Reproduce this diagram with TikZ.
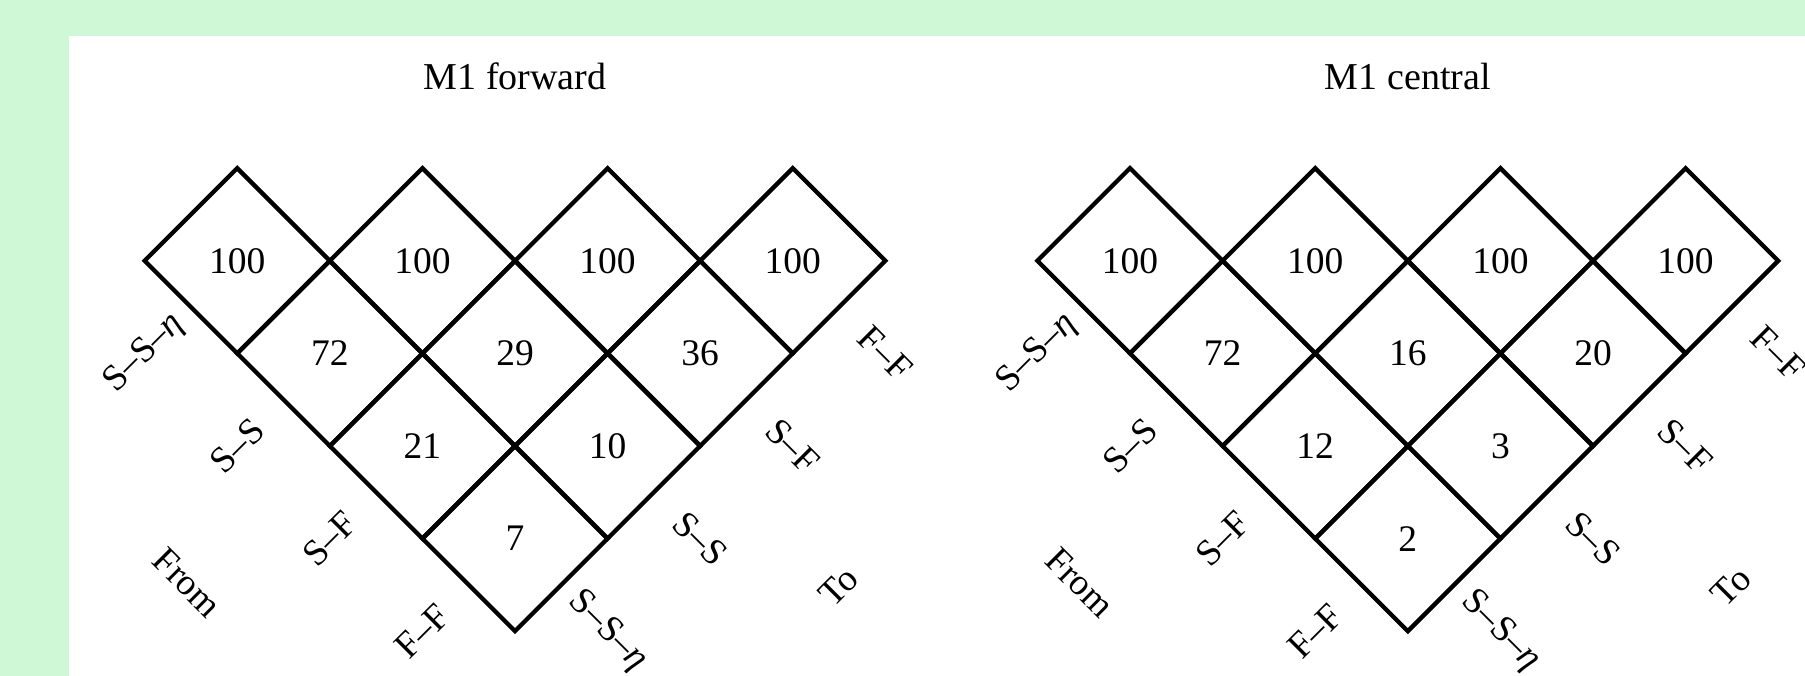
\documentclass[tikz,border=0pt]{standalone}
\usepackage{fontspec}
\setmainfont{Liberation Serif}
\definecolor{bggreen}{RGB}{207,248,214}
\tikzset{
  gridline/.style={draw=black, line width=4.3pt, line join=miter},
  num/.style={inner sep=0pt, font=\fontsize{37.5}{44}\selectfont},
  lab/.style={inner sep=0pt, font=\fontsize{37}{44}\selectfont},
  ttl/.style={inner sep=0pt, anchor=base, font=\fontsize{38}{45}\selectfont},
}
\newcommand\mkcell[4]{%
  \draw[gridline] ({#2-92.6},#3) -- (#2,{#3+92.6}) -- ({#2+92.6},#3) -- (#2,{#3-92.6}) -- cycle;
  \node[num] (#1) at (#2,#3) {#4};}
\begin{document}
\begin{tikzpicture}[x=1pt,y=1pt]
\useasboundingbox (0,0) rectangle (1805,676);
\fill[bggreen] (0,0) rectangle (1805,676);
\fill[white] (69,0) rectangle (1805,639.5);

% ---------- left: M1 forward ----------
\node[ttl] (t1) at (515,586.7) {M1 forward};
\mkcell{a00}{237.2}{415.2}{100}
\mkcell{a01}{422.4}{415.2}{100}
\mkcell{a02}{607.6}{415.2}{100}
\mkcell{a03}{792.8}{415.2}{100}
\mkcell{a10}{329.8}{322.6}{72}
\mkcell{a11}{515.0}{322.6}{29}
\mkcell{a12}{700.2}{322.6}{36}
\mkcell{a20}{422.4}{230.0}{21}
\mkcell{a21}{607.6}{230.0}{10}
\mkcell{a30}{515.0}{137.4}{7}

\node[lab,rotate=45] (al1) at (144.7,322.6) {S–S–\textit{η}};
\node[lab,rotate=45] (al2) at (237.3,230.0) {S–S};
\node[lab,rotate=45] (al3) at (329.9,137.4) {S–F};
\node[lab,rotate=45] (al4) at (422.5,44.8) {F–F};
\node[lab,rotate=-45] (afrom) at (187.4,93.4) {From};
\node[lab,rotate=-45] (ar1) at (885.4,322.6) {F–F};
\node[lab,rotate=-45] (ar2) at (792.8,230.0) {S–F};
\node[lab,rotate=-45] (ar3) at (700.2,137.4) {S–S};
\node[lab,rotate=-45] (ar4) at (607.6,44.8) {S–S–\textit{η}};
\node[lab,rotate=45] (ato) at (838.3,89.3) {To};

% ---------- right: M1 central ----------
\node[ttl] (t2) at (1407.8,586.7) {M1 central};
\mkcell{b00}{1130.0}{415.2}{100}
\mkcell{b01}{1315.2}{415.2}{100}
\mkcell{b02}{1500.4}{415.2}{100}
\mkcell{b03}{1685.6}{415.2}{100}
\mkcell{b10}{1222.6}{322.6}{72}
\mkcell{b11}{1407.8}{322.6}{16}
\mkcell{b12}{1593.0}{322.6}{20}
\mkcell{b20}{1315.2}{230.0}{12}
\mkcell{b21}{1500.4}{230.0}{3}
\mkcell{b30}{1407.8}{137.4}{2}

\node[lab,rotate=45] (bl1) at (1037.5,322.6) {S–S–\textit{η}};
\node[lab,rotate=45] (bl2) at (1130.1,230.0) {S–S};
\node[lab,rotate=45] (bl3) at (1222.7,137.4) {S–F};
\node[lab,rotate=45] (bl4) at (1315.3,44.8) {F–F};
\node[lab,rotate=-45] (bfrom) at (1080.2,93.4) {From};
\node[lab,rotate=-45] (br1) at (1778.2,322.6) {F–F};
\node[lab,rotate=-45] (br2) at (1685.6,230.0) {S–F};
\node[lab,rotate=-45] (br3) at (1593.0,137.4) {S–S};
\node[lab,rotate=-45] (br4) at (1500.4,44.8) {S–S–\textit{η}};
\node[lab,rotate=45] (bto) at (1731.1,89.3) {To};
\end{tikzpicture}
\end{document}
